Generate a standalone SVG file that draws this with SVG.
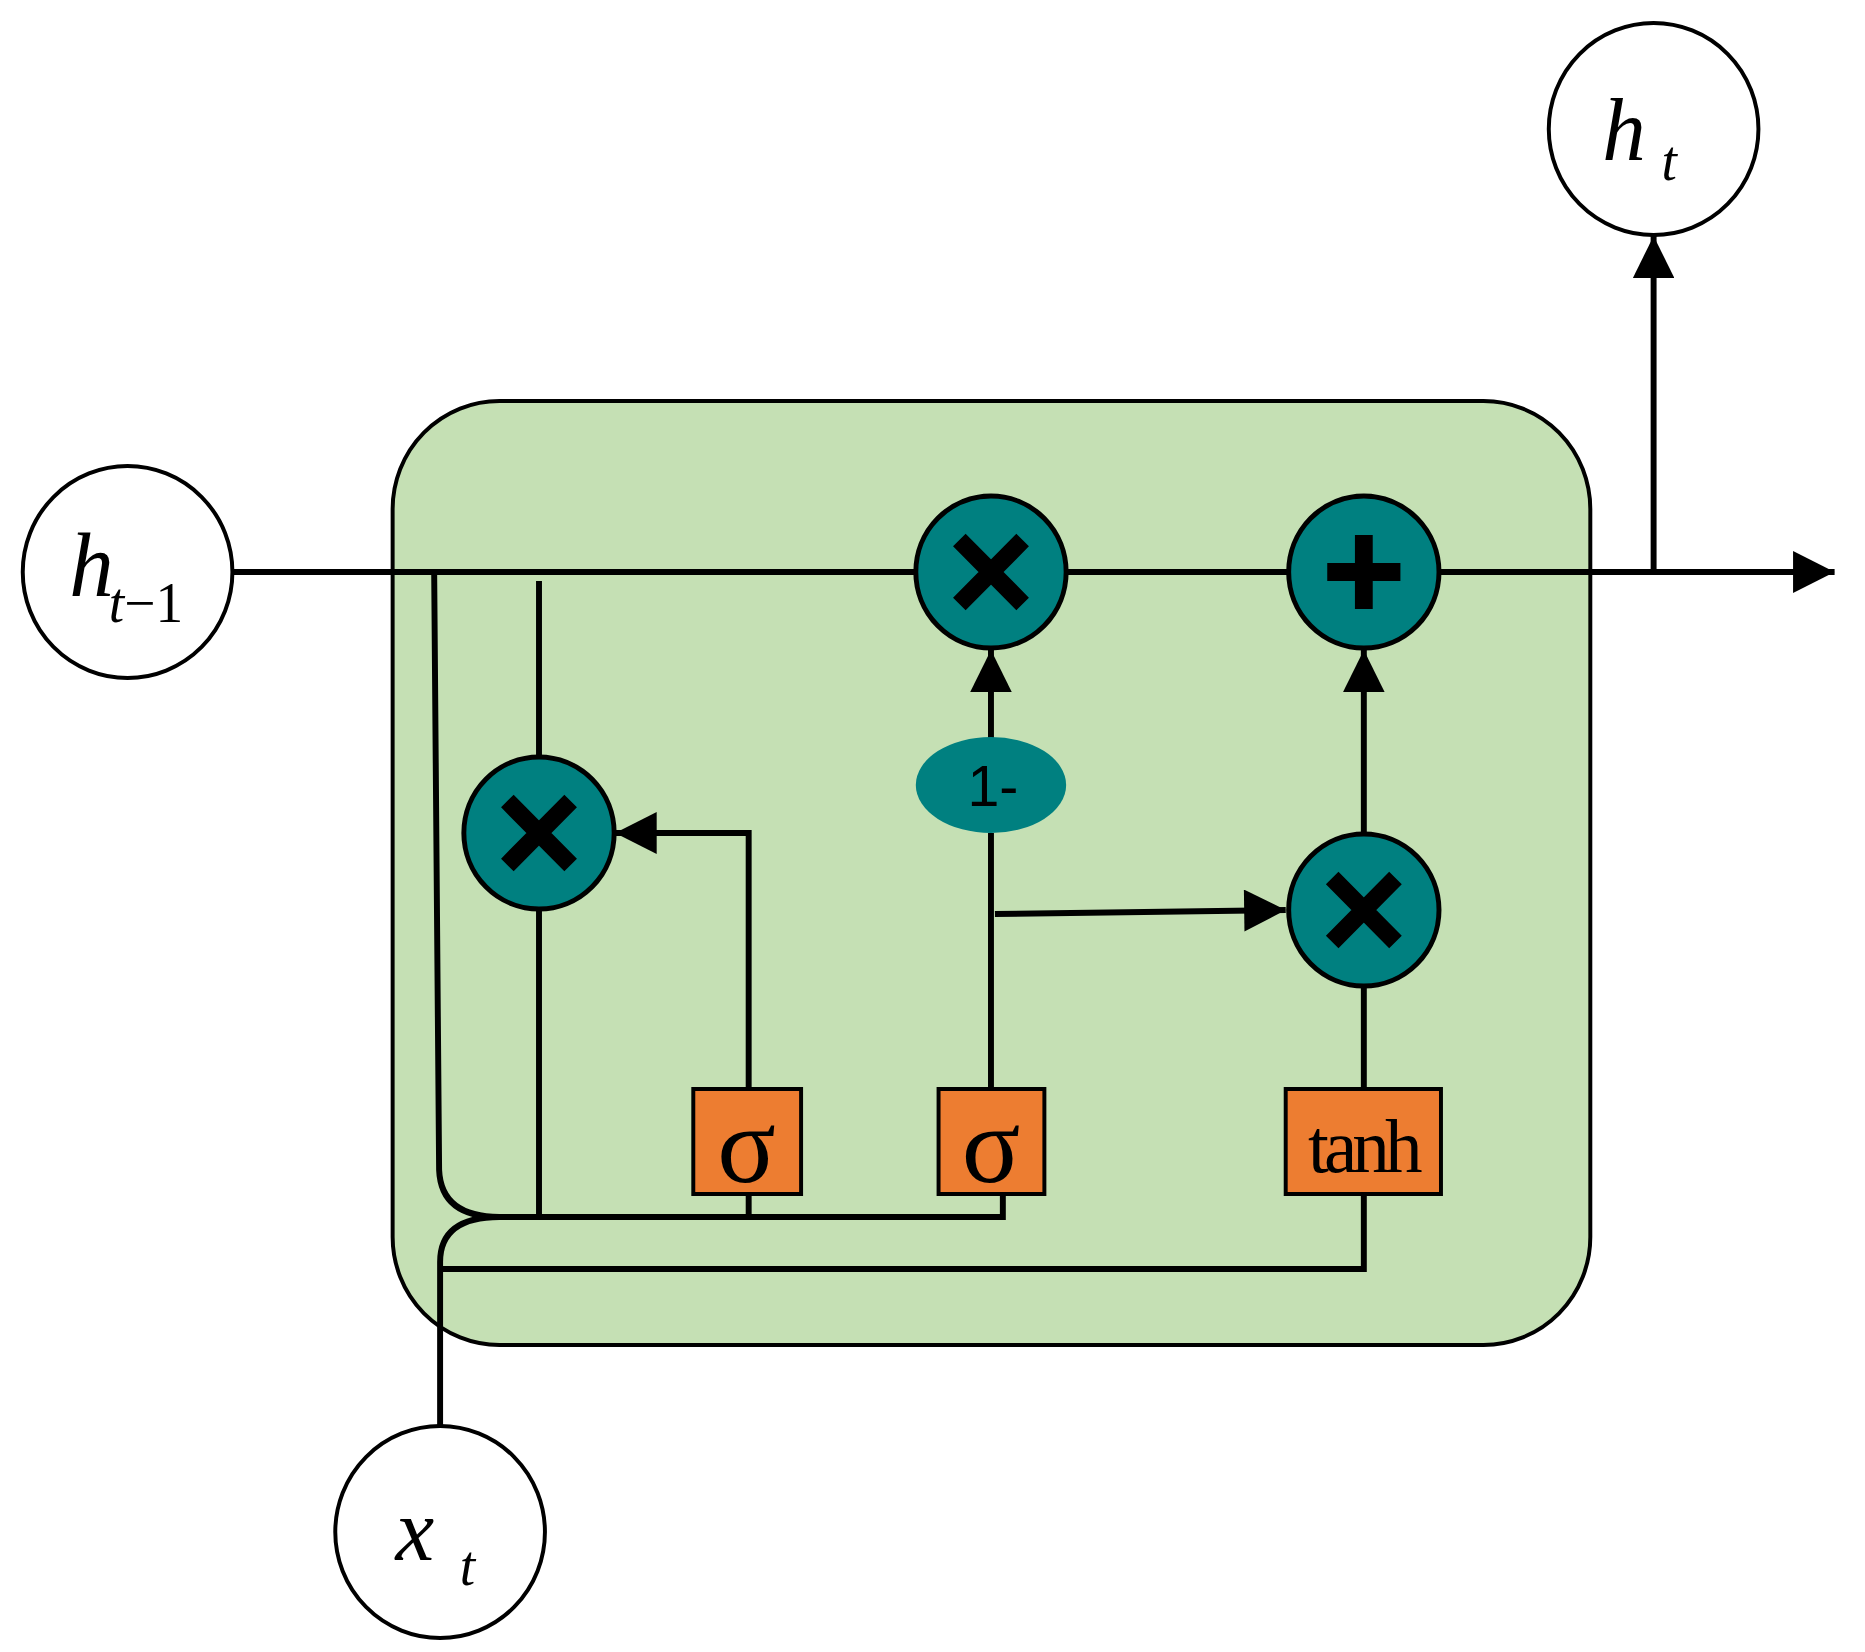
<svg xmlns="http://www.w3.org/2000/svg" width="1865" height="1652" viewBox="0 0 1865 1652">
<defs>
<marker id="ar" viewBox="0 0 10 10" refX="10" refY="5" markerWidth="8.5" markerHeight="7" orient="auto" markerUnits="strokeWidth"><path d="M0,0 L10,5 L0,10 z" fill="#000"/></marker>
<style>
.ln{stroke:#000;stroke-width:6;fill:none}
.io{fill:#fff;stroke:#000;stroke-width:4}
.op{fill:#008080;stroke:#000;stroke-width:5}
.sym{stroke:#000;stroke-width:18;fill:none}
.bx{fill:#ed7d31;stroke:#000;stroke-width:4}
.it{font-family:'Liberation Serif',serif;font-style:italic;fill:#000}
.rm{font-family:'Liberation Serif',serif;fill:#000}
</style>
</defs>
<rect x="0" y="0" width="1865" height="1652" fill="#fff"/>
<g transform="scale(0.989,1)">
<rect id="cell" x="397" y="401" width="1211" height="944" rx="108" fill="#c5e0b4" stroke="#000" stroke-width="4"/>
<g id="connectors">
<line class="ln" x1="235" y1="572" x2="1855" y2="572" marker-end="url(#ar)"/>
<line class="ln" x1="1672" y1="572" x2="1672" y2="236" marker-end="url(#ar)"/>
<path class="ln" d="M439,572 L444,1170 Q446,1217 505,1217 L1014,1217 L1014,1194"/>
<path class="ln" d="M445,1426 L445,1262 Q445,1217 505,1217"/>
<path class="ln" d="M445,1269 L1379,1269 L1379,1194"/>
<line class="ln" x1="545" y1="581" x2="545" y2="758"/>
<line class="ln" x1="545" y1="910" x2="545" y2="1217"/>
<path class="ln" d="M757,1089 L757,833 L622,833" marker-end="url(#ar)"/>
<line class="ln" x1="757" y1="1194" x2="757" y2="1217"/>
<line class="ln" x1="1002" y1="1089" x2="1002" y2="833"/>
<line class="ln" x1="1002" y1="738" x2="1002" y2="650" marker-end="url(#ar)"/>
<line class="ln" x1="1006" y1="914" x2="1300" y2="910" marker-end="url(#ar)"/>
<line class="ln" x1="1379" y1="834" x2="1379" y2="650" marker-end="url(#ar)"/>
<line class="ln" x1="1379" y1="1089" x2="1379" y2="988"/>
</g>
<g id="h_prev"><circle class="io" cx="129" cy="572" r="106"/><text class="it" x="70" y="596" font-size="90">h</text><text class="rm" x="110" y="622" font-size="56"><tspan font-style="italic">t</tspan>−1</text></g>
<g id="h_t"><circle class="io" cx="1672" cy="129" r="106"/><text class="it" x="1620" y="160" font-size="88">h</text><text class="it" x="1680" y="180" font-size="56">t</text></g>
<g id="x_t"><circle class="io" cx="445" cy="1532" r="106"/><text class="it" x="400" y="1560" font-size="88">x</text><text class="it" x="465" y="1585" font-size="56">t</text></g>
<g id="mul_top"><circle class="op" cx="1002" cy="572" r="76"/><path class="sym" d="M970,540 L1034,604 M1034,540 L970,604"/></g>
<g id="plus"><circle class="op" cx="1379" cy="572" r="76"/><path class="sym" d="M1379,535 L1379,609 M1342,572 L1416,572"/></g>
<g id="mul_left"><circle class="op" cx="545" cy="833" r="76"/><path class="sym" d="M513,801 L577,865 M577,801 L513,865"/></g>
<g id="mul_right"><circle class="op" cx="1379" cy="910" r="76"/><path class="sym" d="M1347,878 L1411,942 M1411,878 L1347,942"/></g>
<g id="one_minus"><ellipse cx="1002" cy="785" rx="76" ry="48" fill="#008080"/><text x="1004" y="806" font-size="58" text-anchor="middle" font-family="'Liberation Sans',sans-serif" fill="#000">1-</text></g>
<g id="sigma1"><rect class="bx" x="701" y="1089" width="109" height="105"/><text class="rm" x="755" y="1182" font-size="110" text-anchor="middle">σ</text></g>
<g id="sigma2"><rect class="bx" x="949" y="1089" width="107" height="105"/><text class="rm" x="1002" y="1182" font-size="110" text-anchor="middle">σ</text></g>
<g id="tanh"><rect class="bx" x="1300" y="1089" width="157" height="105"/><text class="rm" x="1378" y="1172" font-size="76" text-anchor="middle" letter-spacing="-5">tanh</text></g>
</g>
</svg>
